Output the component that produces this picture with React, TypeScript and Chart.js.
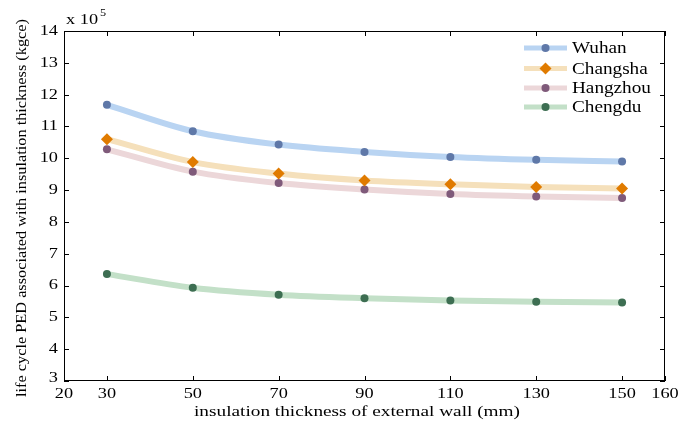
import React, { useEffect, useRef } from "react";
import { Chart, registerables } from "chart.js";

Chart.register(...registerables);

const thickness = [30, 50, 70, 90, 110, 130, 150];
const xTicks = [20, 30, 50, 70, 90, 110, 130, 150, 160];
const yTicks = [3, 4, 5, 6, 7, 8, 9, 10, 11, 12, 13, 14];
const seriesNames = ["Wuhan", "Changsha", "Hangzhou", "Chengdu"];
const wuhan = [11.68, 10.85, 10.43, 10.2, 10.04, 9.95, 9.9];
const changsha = [10.6, 9.88, 9.52, 9.3, 9.18, 9.1, 9.05];
const hangzhou = [10.28, 9.58, 9.22, 9.02, 8.88, 8.8, 8.75];
const chengdu = [6.36, 5.93, 5.71, 5.6, 5.53, 5.49, 5.47];
const lineColors = ["#b9d4f2", "#f5e0bb", "#ecd7d9", "#c3e0c8"];
const markerColors = ["#5f78a8", "#e07b00", "#7f5a7a", "#3d6e52"];
const markerStyles = ["circle", "rectRot", "circle", "circle"];
const markerSizes = [4, 6, 4, 4];

const FONT = "'Liberation Serif', 'Times New Roman', serif";
const SX = 1.22;

function stretchText(ctx: any, text: string, x: number, y: number, sx: number, align: string) {
  ctx.save();
  ctx.translate(x, y);
  ctx.scale(sx, 1);
  ctx.textAlign = align;
  ctx.fillText(text, 0, 0);
  ctx.restore();
}

function fitText(ctx: any, text: string, cx: number, cy: number, width: number) {
  const w = ctx.measureText(text).width;
  ctx.save();
  ctx.translate(cx, cy);
  ctx.scale(width / w, 1);
  ctx.textAlign = "center";
  ctx.fillText(text, 0, 0);
  ctx.restore();
}

const decorPlugin = {
  id: "decor",
  afterDraw(chart: any) {
    const ctx = chart.ctx;
    const { left, right, top, bottom } = chart.chartArea;
    const xs = chart.scales.x;
    const ys = chart.scales.y;
    ctx.save();
    ctx.strokeStyle = "#000";
    ctx.lineWidth = 1;
    ctx.strokeRect(left + 0.5, top + 0.5, right - left - 1, bottom - top - 1);
    const tl = 5;
    ctx.beginPath();
    xTicks.forEach((v) => {
      const px = Math.round(xs.getPixelForValue(v)) + 0.5;
      ctx.moveTo(px, bottom);
      ctx.lineTo(px, bottom - tl);
      ctx.moveTo(px, top);
      ctx.lineTo(px, top + tl);
    });
    yTicks.forEach((v) => {
      const py = Math.round(ys.getPixelForValue(v)) + 0.5;
      ctx.moveTo(left, py);
      ctx.lineTo(left + tl, py);
      ctx.moveTo(right, py);
      ctx.lineTo(right - tl, py);
    });
    ctx.stroke();

    ctx.fillStyle = "#000";
    ctx.textBaseline = "middle";
    ctx.font = `15px ${FONT}`;
    // tick labels
    xTicks.forEach((v) => {
      const px = xs.getPixelForValue(v);
      stretchText(ctx, String(v), px, 394, SX, "center");
    });
    yTicks.forEach((v) => {
      const py = ys.getPixelForValue(v);
      stretchText(ctx, String(v), 58, v === 3 ? py - 3 : py, SX, "right");
    });

    // exponent label
    ctx.textBaseline = "alphabetic";
    ctx.font = `15px ${FONT}`;
    stretchText(ctx, "x 10", 66, 24, SX, "left");
    const w = ctx.measureText("x 10").width * SX;
    ctx.font = `10px ${FONT}`;
    stretchText(ctx, "5", 66 + w + 2, 16, SX, "left");

    // axis titles
    ctx.textBaseline = "middle";
    ctx.font = `15px ${FONT}`;
    fitText(ctx, "insulation thickness of external wall (mm)", 357, 412, 326);
    ctx.save();
    ctx.translate(22, 208);
    ctx.rotate(-Math.PI / 2);
    ctx.font = `15px ${FONT}`;
    fitText(ctx, "life cycle PED associated with insulation thickness (kgce)", 0, 0, 378);
    ctx.restore();

    // legend
    const lx0 = 524;
    const lx1 = 567;
    const rows = [48, 68.5, 88, 107];
    seriesNames.forEach((name, i) => {
      const y = rows[i];
      ctx.strokeStyle = lineColors[i];
      ctx.lineWidth = 5;
      ctx.beginPath();
      ctx.moveTo(lx0, y);
      ctx.lineTo(lx1, y);
      ctx.stroke();
      ctx.fillStyle = markerColors[i];
      const cx = (lx0 + lx1) / 2;
      if (markerStyles[i] === "rectRot") {
        const r = 6;
        ctx.beginPath();
        ctx.moveTo(cx, y - r);
        ctx.lineTo(cx + r, y);
        ctx.lineTo(cx, y + r);
        ctx.lineTo(cx - r, y);
        ctx.closePath();
        ctx.fill();
      } else {
        ctx.beginPath();
        ctx.arc(cx, y, 4, 0, Math.PI * 2);
        ctx.fill();
      }
      ctx.fillStyle = "#000";
      ctx.textBaseline = "middle";
      ctx.font = `16px ${FONT}`;
      stretchText(ctx, name, 572, y + 1, 1.2, "left");
    });
    ctx.restore();
  },
};

export default function App() {
  const canvasRef = useRef<HTMLCanvasElement>(null);

  useEffect(() => {
    if (!canvasRef.current) return;
    const allSeries = [wuhan, changsha, hangzhou, chengdu];
    const chart = new Chart(canvasRef.current, {
      type: "line",
      data: {
        datasets: allSeries.map((s, i) => ({
          label: seriesNames[i],
          data: s.map((v, j) => ({ x: thickness[j], y: v })),
          borderColor: lineColors[i],
          borderWidth: 6,
          backgroundColor: markerColors[i],
          pointBackgroundColor: markerColors[i],
          pointBorderColor: markerColors[i],
          pointBorderWidth: 0,
          pointStyle: markerStyles[i] as any,
          pointRadius: markerSizes[i],
          cubicInterpolationMode: "monotone" as const,
          fill: false,
        })),
      },
      options: {
        animation: false,
        responsive: false,
        maintainAspectRatio: false,
        events: [],
        layout: { padding: { left: 0, right: 14, top: 31, bottom: 0 } },
        plugins: { legend: { display: false }, tooltip: { enabled: false } },
        scales: {
          x: {
            type: "linear",
            min: 20,
            max: 160,
            afterBuildTicks: (scale: any) => {
              scale.ticks = xTicks.map((v) => ({ value: v }));
            },
            afterFit: (scale: any) => {
              scale.height = 41;
            },
            grid: { display: false, drawTicks: false },
            border: { display: false },
            ticks: { display: false },
          },
          y: {
            type: "linear",
            min: 3,
            max: 14,
            afterBuildTicks: (scale: any) => {
              scale.ticks = yTicks.map((v) => ({ value: v }));
            },
            afterFit: (scale: any) => {
              scale.width = 64;
            },
            grid: { display: false, drawTicks: false },
            border: { display: false },
            ticks: { display: false },
          },
        },
      },
      plugins: [decorPlugin],
    });
    return () => chart.destroy();
  }, []);

  return (
    <div style={{ position: "fixed", left: 0, top: 0, width: 679, height: 422, background: "#fff" }}>
      <canvas ref={canvasRef} width={679} height={422} style={{ width: 679, height: 422 }} />
    </div>
  );
}
